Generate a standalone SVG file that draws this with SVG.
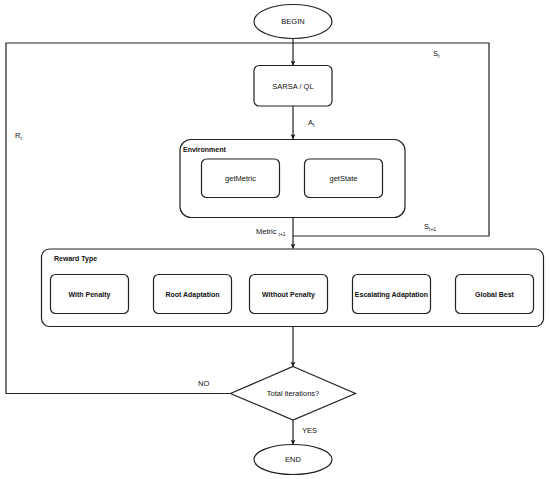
<svg xmlns="http://www.w3.org/2000/svg" width="550" height="479" viewBox="0 0 550 479">
<defs>
<marker id="ah" viewBox="0 0 10 10" refX="10" refY="5" markerWidth="5" markerHeight="5" orient="auto" markerUnits="userSpaceOnUse">
<path d="M0,0 L10,5 L0,10 L3,5 z" fill="#111"/>
</marker>
<style>
.s{fill:#fff;stroke:#222;stroke-width:1.2}
.c{fill:none;stroke:#222;stroke-width:1.2}
.t{font-family:"Liberation Sans",Arial,sans-serif;font-size:7.5px;fill:#111;text-anchor:middle;dominant-baseline:central}
.b{font-family:"Liberation Sans",Arial,sans-serif;font-size:7px;font-weight:bold;fill:#111;text-anchor:middle;dominant-baseline:central}
.l{font-family:"Liberation Sans",Arial,sans-serif;font-size:7.5px;fill:#111}
.sub{font-size:5px}
</style>
</defs>
<rect width="550" height="479" fill="#fff"/>
<g id="connectors">
<polyline class="c" points="230.5,393.5 6,393.5 6,43 489,43 489,236 293,236"/>
<line class="c" x1="293" y1="38" x2="293" y2="65.5" marker-end="url(#ah)"/>
<line class="c" x1="293" y1="106" x2="293" y2="139" marker-end="url(#ah)"/>
<line class="c" x1="293" y1="217" x2="293" y2="248.5" marker-end="url(#ah)"/>
<line class="c" x1="293" y1="326.5" x2="293" y2="366.5" marker-end="url(#ah)"/>
<line class="c" x1="293" y1="420" x2="293" y2="444.5" marker-end="url(#ah)"/>
<text class="l" x="433" y="56">S<tspan class="sub" dy="2">t</tspan></text>
<text class="l" x="15" y="138">R<tspan class="sub" dy="2">t</tspan></text>
<text class="l" x="308" y="125">A<tspan class="sub" dy="2">t</tspan></text>
<text class="l" x="256" y="234">Metric <tspan class="sub" dy="2">t+1</tspan></text>
<text class="l" x="424" y="229">S<tspan class="sub" dy="2">t+1</tspan></text>
<text class="l" x="198" y="386">NO</text>
<text class="l" x="302" y="433">YES</text>
</g>
<g id="begin">
<ellipse class="s" cx="293" cy="21.5" rx="39" ry="17"/>
<text class="t" x="293" y="21.5">BEGIN</text>
</g>
<g id="sarsa">
<rect class="s" x="254" y="65.5" width="78" height="40.5" rx="5"/>
<text class="t" x="293" y="86">SARSA / QL</text>
</g>
<g id="environment">
<rect class="s" x="180" y="139.5" width="225" height="78" rx="11"/>
<text class="b" x="183" y="149" style="text-anchor:start">Environment</text>
</g>
<g id="getMetric">
<rect class="s" x="201.5" y="159" width="78" height="38.5" rx="5"/>
<text class="t" x="240.5" y="178.5">getMetric</text>
</g>
<g id="getState">
<rect class="s" x="304.5" y="159" width="78" height="38.5" rx="5"/>
<text class="t" x="343.5" y="178.5">getState</text>
</g>
<g id="reward">
<rect class="s" x="41.5" y="249" width="502" height="77.5" rx="8"/>
<text class="b" x="54" y="258" style="text-anchor:start">Reward Type</text>
</g>
<g id="withPenalty">
<rect class="s" x="50.5" y="274.5" width="78" height="39" rx="5"/>
<text class="b" x="89.5" y="294">With Penalty</text>
</g>
<g id="rootAdaptation">
<rect class="s" x="153.5" y="274.5" width="78" height="39" rx="5"/>
<text class="b" x="192.5" y="294">Root Adaptation</text>
</g>
<g id="withoutPenalty">
<rect class="s" x="249.5" y="274.5" width="78" height="39" rx="5"/>
<text class="b" x="288.5" y="294">Without Penalty</text>
</g>
<g id="escalating">
<rect class="s" x="352.5" y="274.5" width="78" height="39" rx="5"/>
<text class="b" x="391.5" y="294">Escalating Adaptation</text>
</g>
<g id="globalBest">
<rect class="s" x="455.5" y="274.5" width="78" height="39" rx="5"/>
<text class="b" x="494.5" y="294">Global Best</text>
</g>
<g id="decision">
<polygon class="s" points="293,366.5 355.5,393.5 293,420 230.5,393.5"/>
<text class="t" x="293" y="393.5">Total iterations?</text>
</g>
<g id="end">
<ellipse class="s" cx="293" cy="459.5" rx="39" ry="15"/>
<text class="t" x="293" y="459.5">END</text>
</g>
</svg>
